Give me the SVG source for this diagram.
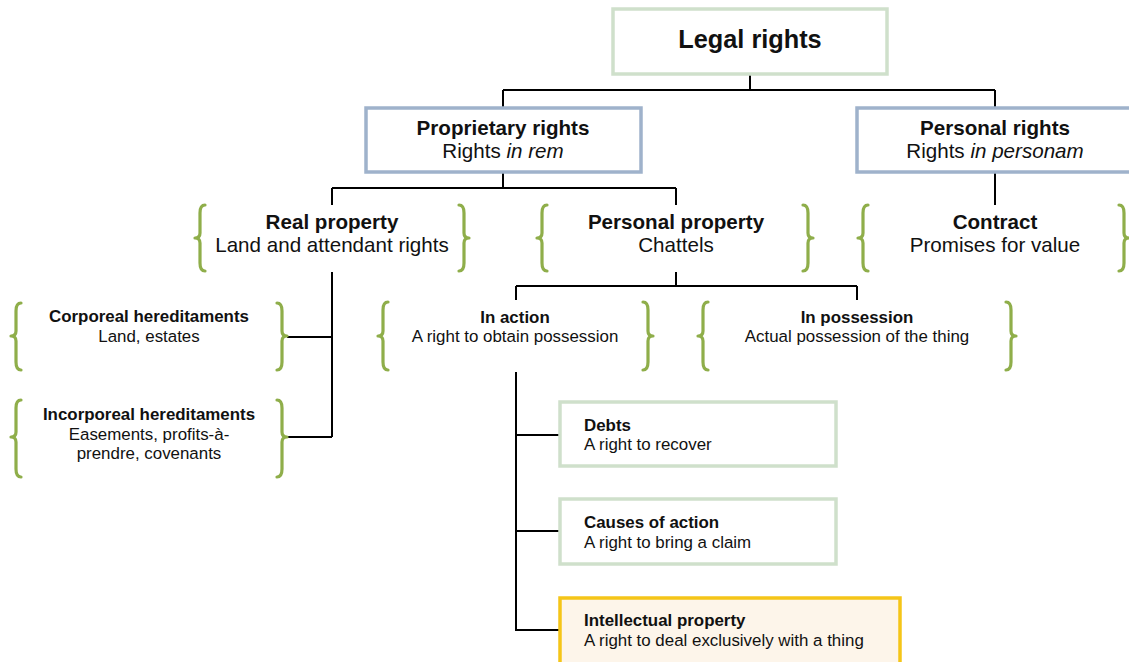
<svg xmlns="http://www.w3.org/2000/svg" width="1129" height="662" viewBox="0 0 1129 662">
<style>
text{font-family:"Liberation Sans",Arial,sans-serif;fill:#111}
.b{font-weight:bold}
.big{font-size:20.6px}
.sm{font-size:16.9px}
.c{text-anchor:middle}
.br{fill:none;stroke:#8fae4a;stroke-width:3.2;stroke-linecap:round;stroke-linejoin:round}
.bx-g{fill:#fff;stroke:#cfe0cb;stroke-width:3.5}
.bx-b{fill:#fff;stroke:#9fb2cb;stroke-width:3.5}
.bx-y{fill:#fdf5ea;stroke:#f5c518;stroke-width:3.5}
.ln{fill:none;stroke:#000;stroke-width:2}
</style>
<rect width="1129" height="662" fill="#fff"/>
<g id="connectors">
<path class="ln" d="M750,74 V90 M503,90 H995 M503,90 V108 M995,90 V108"/>
<path class="ln" d="M503,172 V188 M332,188 H676 M332,188 V205 M676,188 V205"/>
<path class="ln" d="M995,172 V205"/>
<path class="ln" d="M332,272 V437 M287,337 H332 M287,437 H332"/>
<path class="ln" d="M676,272 V286 M516,286 H857 M516,286 V300 M857,286 V300"/>
<path class="ln" d="M516,372 V630 H559 M516,435 H559 M516,531 H559"/>
</g>
<g id="legal-rights">
<rect class="bx-g" x="613" y="9" width="274" height="65"/>
<text class="b c" x="750" y="48" font-size="25.3">Legal rights</text>
</g>
<g id="proprietary-rights">
<rect class="bx-b" x="366" y="108" width="275" height="64"/>
<text class="b c big" x="503" y="135">Proprietary rights</text>
<text class="c big" x="503" y="158">Rights <tspan font-style="italic">in rem</tspan></text>
</g>
<g id="personal-rights">
<rect class="bx-b" x="857" y="108" width="276" height="64"/>
<text class="b c big" x="995" y="135">Personal rights</text>
<text class="c big" x="995" y="158">Rights <tspan font-style="italic">in personam</tspan></text>
</g>
<g id="real-property">
<path class="br" d="M205,205 Q200,205 200,213 V233 Q200,238 195,238 Q200,238 200,243 V263 Q200,271 205,271"/>
<path class="br" d="M459,205 Q464,205 464,213 V233 Q464,238 469,238 Q464,238 464,243 V263 Q464,271 459,271"/>
<text class="b c big" x="332" y="229">Real property</text>
<text class="c big" x="332" y="252">Land and attendant rights</text>
</g>
<g id="personal-property">
<path class="br" d="M547,205 Q542,205 542,213 V233 Q542,238 537,238 Q542,238 542,243 V263 Q542,271 547,271"/>
<path class="br" d="M803,205 Q808,205 808,213 V233 Q808,238 813,238 Q808,238 808,243 V263 Q808,271 803,271"/>
<text class="b c big" x="676" y="229">Personal property</text>
<text class="c big" x="676" y="252">Chattels</text>
</g>
<g id="contract">
<path class="br" d="M868,205 Q863,205 863,213 V233 Q863,238 858,238 Q863,238 863,243 V263 Q863,271 868,271"/>
<path class="br" d="M1119,205 Q1124,205 1124,213 V233 Q1124,238 1129,238 Q1124,238 1124,243 V263 Q1124,271 1119,271"/>
<text class="b c big" x="995" y="229">Contract</text>
<text class="c big" x="995" y="252">Promises for value</text>
</g>
<g id="corporeal">
<path class="br" d="M21,303 Q16,303 16,311 V331 Q16,336 11,336 Q16,336 16,341 V362 Q16,370 21,370"/>
<path class="br" d="M277,303 Q282,303 282,311 V331 Q282,336 287,336 Q282,336 282,341 V362 Q282,370 277,370"/>
<text class="b c sm" x="149" y="322">Corporeal hereditaments</text>
<text class="c sm" x="149" y="342">Land, estates</text>
</g>
<g id="incorporeal">
<path class="br" d="M21,400 Q16,400 16,408 V432 Q16,437 11,437 Q16,437 16,442 V469 Q16,477 21,477"/>
<path class="br" d="M277,400 Q282,400 282,408 V432 Q282,437 287,437 Q282,437 282,442 V469 Q282,477 277,477"/>
<text class="b c sm" x="149" y="420">Incorporeal hereditaments</text>
<text class="c sm" x="149" y="440">Easements, profits-à-</text>
<text class="c sm" x="149" y="459">prendre, covenants</text>
</g>
<g id="in-action">
<path class="br" d="M388,302 Q383,302 383,310 V331 Q383,336 378,336 Q383,336 383,341 V362 Q383,370 388,370"/>
<path class="br" d="M643,302 Q648,302 648,310 V331 Q648,336 653,336 Q648,336 648,341 V362 Q648,370 643,370"/>
<text class="b c sm" x="515" y="323">In action</text>
<text class="c sm" x="515" y="342">A right to obtain possession</text>
</g>
<g id="in-possession">
<path class="br" d="M708,302 Q703,302 703,310 V331 Q703,336 698,336 Q703,336 703,341 V362 Q703,370 708,370"/>
<path class="br" d="M1006,302 Q1011,302 1011,310 V331 Q1011,336 1016,336 Q1011,336 1011,341 V362 Q1011,370 1006,370"/>
<text class="b c sm" x="857" y="323">In possession</text>
<text class="c sm" x="857" y="342">Actual possession of the thing</text>
</g>
<g id="debts">
<rect class="bx-g" x="560" y="402" width="276" height="64"/>
<text class="b sm" x="584" y="431">Debts</text>
<text class="sm" x="584" y="450">A right to recover</text>
</g>
<g id="causes-of-action">
<rect class="bx-g" x="560" y="499" width="276" height="65"/>
<text class="b sm" x="584" y="528">Causes of action</text>
<text class="sm" x="584" y="548">A right to bring a claim</text>
</g>
<g id="intellectual-property">
<rect class="bx-y" x="560" y="598" width="340" height="70"/>
<text class="b sm" x="584" y="626">Intellectual property</text>
<text class="sm" x="584" y="646">A right to deal exclusively with a thing</text>
</g>
</svg>
